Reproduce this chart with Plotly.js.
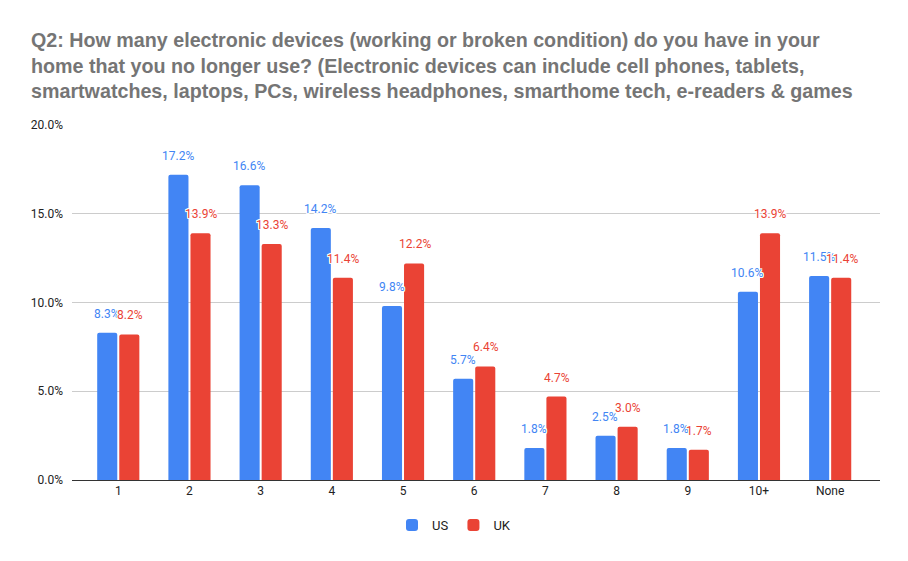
<!DOCTYPE html>
<html><head><meta charset="utf-8">
<script src="https://cdn.plot.ly/plotly-3.0.1.min.js"></script>
<style>html,body{margin:0;padding:0;background:#fff}#chart{width:908px;height:561px}</style>
</head><body><div id="chart"></div>
<script>
const categories = ["1","2","3","4","5","6","7","8","9","10+","None"];
const usValues = [8.3,17.2,16.6,14.2,9.8,5.7,1.8,2.5,1.8,10.6,11.5];
const ukValues = [8.2,13.9,13.3,11.4,12.2,6.4,4.7,3.0,1.7,13.9,11.4];
const yTicks = [0,5,10,15,20];
const titleText = "Q2: How many electronic devices (working or broken condition) do you have in your<br>home that you no longer use? (Electronic devices can include cell phones, tablets,<br>smartwatches, laptops, PCs, wireless headphones, smarthome tech, e-readers & games";

const US_COLOR = "#4285F4", UK_COLOR = "#EA4335";
const FONT = "Roboto, Arial, sans-serif";
const TFONT = "'Liberation Sans', Arial, sans-serif";
const halo = "1px 0 0 #fff, -1px 0 0 #fff, 0 1px 0 #fff, 0 -1px 0 #fff, 1px 1px 0 #fff, -1px -1px 0 #fff, 1px -1px 0 #fff, -1px 1px 0 #fff";

const traces = [
  {type:"bar", name:"US", x:categories, y:usValues, marker:{color:US_COLOR}, hoverinfo:"none"},
  {type:"bar", name:"UK", x:categories, y:ukValues, marker:{color:UK_COLOR}, hoverinfo:"none"}
];

const annotations = [];
[[usValues, US_COLOR, -11.5],[ukValues, UK_COLOR, 11.5]].forEach(([vals,col,dx])=>{
  vals.forEach((v,i)=>{
    annotations.push({x:i, y:v, xref:"x", yref:"y", text:v.toFixed(1)+"%",
      showarrow:false, xanchor:"center", yanchor:"bottom", xshift:dx, yshift:10,
      font:{family:FONT, size:12, color:col, shadow:halo}});
  });
});

const layout = {
  width:908, height:561,
  margin:{l:72, r:28, t:125, b:81},
  paper_bgcolor:"#fff", plot_bgcolor:"#fff",
  font:{family:FONT, color:"#222"},
  title:{text:titleText, xref:"container", yref:"container", x:31/908, xanchor:"left",
         y:1-47/561, yanchor:"top", font:{family:TFONT, size:19.7, color:"#757575", weight:"bold"}},
  barmode:"group", bargap:0.38, bargroupgap:0.09, barcornerradius:2,
  xaxis:{type:"category", range:[-0.65,10.7], showgrid:false, showline:true, linecolor:"#333", linewidth:1,
         ticks:"", tickfont:{family:FONT, size:12, color:"#222"}, fixedrange:true, zeroline:false},
  yaxis:{range:[0,20], tickvals:yTicks, ticktext:yTicks.map(t=>t.toFixed(1)+"%"), showgrid:true, gridcolor:"#ccc",
         zeroline:false, showline:false, ticks:"", ticklen:0, ticklabelstandoff:8,
         tickfont:{family:FONT, size:12, color:"#222"}, fixedrange:true},
  legend:{orientation:"h", x:0.5, xanchor:"center", xref:"container", y:1-525/561, yref:"container", yanchor:"middle",
          font:{family:FONT, size:13, color:"#222"}, traceorder:"normal"},
  annotations:annotations,
  showlegend:true
};
Plotly.newPlot("chart", traces, layout, {displayModeBar:false, staticPlot:true});
</script></body></html>
